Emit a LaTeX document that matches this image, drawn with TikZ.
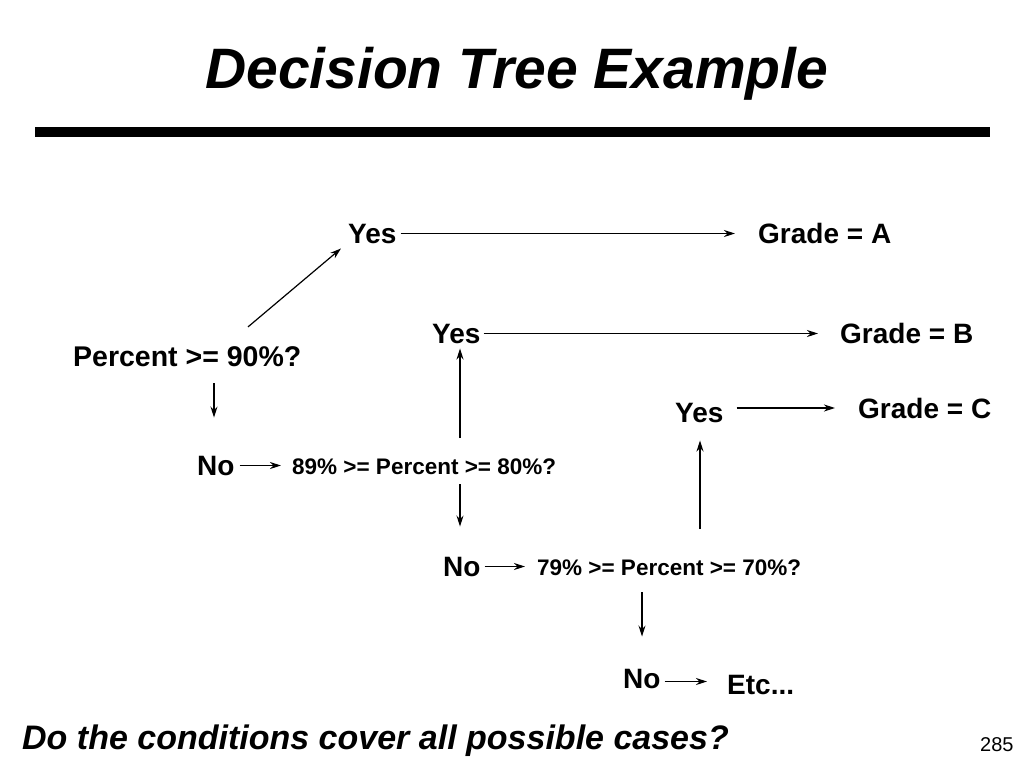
\documentclass[tikz,border=0pt]{standalone}
\usepackage{fontspec}
\setmainfont{Liberation Sans}
\usetikzlibrary{arrows.meta}
\tikzset{
  lbl/.style={inner sep=0pt, anchor=base west, font=\fontsize{28}{30}\selectfont\bfseries},
  qlbl/.style={inner sep=0pt, anchor=base west, font=\fontsize{22.5}{24}\selectfont\bfseries},
  arr/.style={line width=1.2pt, -{Stealth[length=11pt,width=7pt,inset=3.5pt]}},
}
\begin{document}
\begin{tikzpicture}[x=1pt,y=-1pt]
\useasboundingbox (0,0) rectangle (1024,768);
% title and rule
\node[inner sep=0pt, anchor=base west, font=\fontsize{57}{60}\selectfont\bfseries\itshape] (title) at (205,88) {Decision Tree Example};
\fill (35,127) rectangle (990,137);
% nodes
\node[lbl] (yes1) at (348,243) {Yes};
\node[lbl] (gA) at (758,243) {Grade = A};
\node[lbl, font=\fontsize{28.5}{30}\selectfont\bfseries] (pct) at (73,366) {Percent >= 90\%?};
\node[lbl] (no1) at (197,475) {No};
\node[qlbl] (q2) at (292,474) {89\% >= Percent >= 80\%?};
\node[lbl] (yes2) at (432,343) {Yes};
\node[lbl] (gB) at (840,343) {Grade = B};
\node[lbl] (no2) at (443,576) {No};
\node[qlbl] (q3) at (537,575) {79\% >= Percent >= 70\%?};
\node[lbl] (yes3) at (675,422) {Yes};
\node[lbl] (gC) at (858,418) {Grade = C};
\node[lbl] (no3) at (623,688) {No};
\node[lbl] (etc) at (727,694) {Etc...};
\node[inner sep=0pt, anchor=base west, font=\fontsize{34}{36}\selectfont\bfseries\itshape] (question) at (22,749) {Do the conditions cover all possible cases?};
\node[inner sep=0pt, anchor=base west, font=\fontsize{20}{22}\selectfont] (page) at (980,751) {285};
% connectors
\draw[arr] ([xshift=4pt]yes1.east) -- ([xshift=-23pt]yes1.east -| gA.west);
\draw[arr] ([shift={(175,-19)}]pct.north west) -- ([shift={(-7,5)}]yes1.south west);
\draw[arr] ([shift={(141,17)}]pct.south west) coordinate (s1) -- ([yshift=38pt]s1 |- no1.north);
\draw[arr] ([xshift=5pt]no1.east) -- ([xshift=-11pt]no1.east -| q2.west);
\draw[arr] ([shift={(168,-20)}]q2.north west) coordinate (s2) -- ([yshift=-5pt]s2 |- yes2.south);
\draw[arr] ([xshift=3pt]yes2.east) -- ([xshift=-22pt]yes2.east -| gB.west);
\draw[arr] ([shift={(168,10)}]q2.south west) coordinate (s3) -- ([yshift=30pt]s3 |- no2.north);
\draw[arr] ([xshift=4pt]no2.east) -- ([xshift=-12pt]no2.east -| q3.west);
\draw[arr] ([shift={(163,-30)}]q3.north west) coordinate (s4) -- ([yshift=-18pt]s4 |- yes3.south);
\draw[arr] ([xshift=13pt]yes3.east |- gC.west) -- ([xshift=-23pt]gC.west);
\draw[arr] ([shift={(105,17)}]q3.south west) coordinate (s5) -- ([yshift=32pt]s5 |- no3.north);
\draw[arr] ([shift={(4,3)}]no3.east) -- ([shift={(-20,3)}]no3.east -| etc.west);
\end{tikzpicture}
\end{document}
